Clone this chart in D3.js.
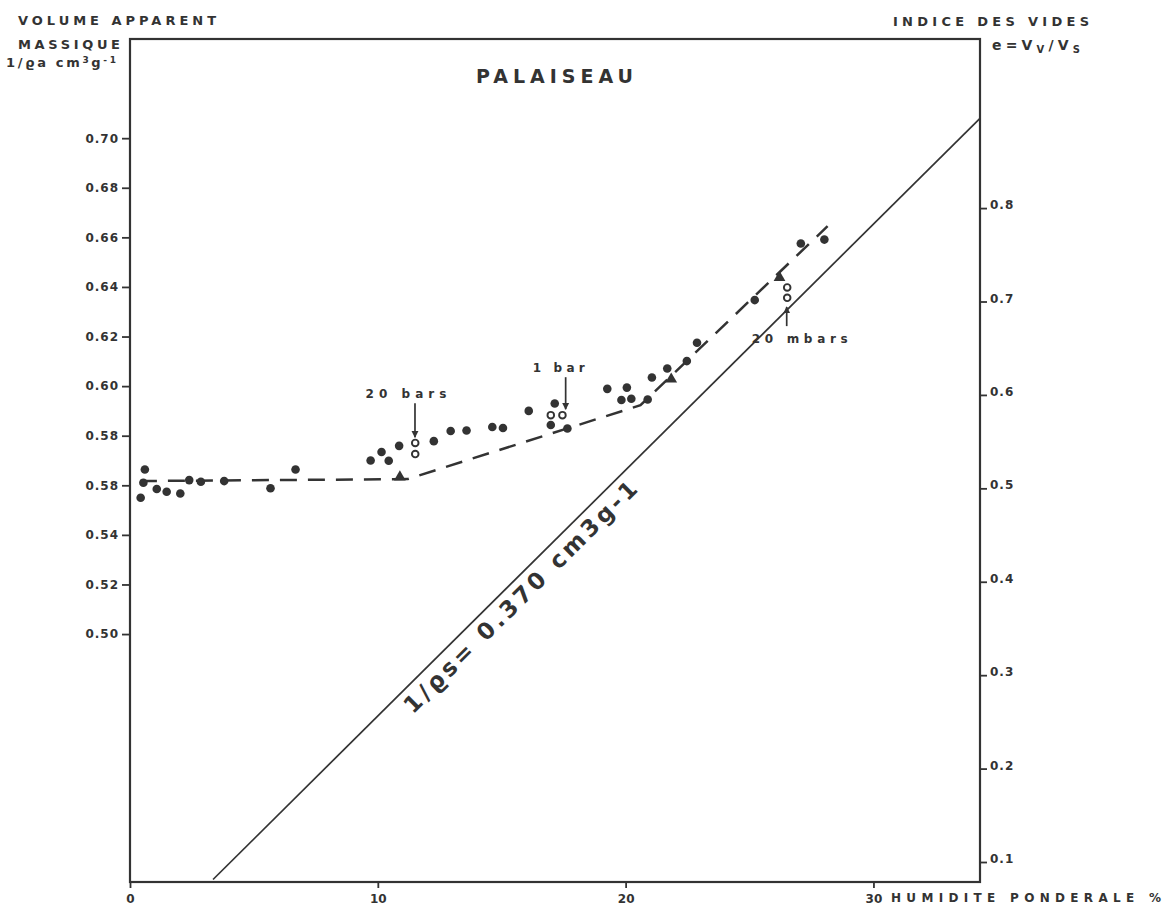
<!DOCTYPE html>
<html>
<head>
<meta charset="utf-8">
<script src="https://cdn.jsdelivr.net/npm/d3@7"></script>
<style>
  body { margin: 0; background: #fff; }
  svg { display: block; }
  text { font-family: "DejaVu Sans", "Liberation Sans", Arial, sans-serif; font-weight: bold; fill: #333; }
</style>
</head>
<body>
<svg id="chart" width="1164" height="913"></svg>
<script>
// values: w = humidite ponderale %, v = 1/rho_a (cm3/g)
const filledW = [0.43, 0.60, 0.54, 1.08, 1.48, 2.03, 2.39, 2.86, 3.80, 5.67, 6.68, 9.71, 10.15, 10.44, 10.86,
                 12.26, 12.94, 13.58, 14.62, 15.05, 16.09, 17.14, 16.98, 17.65, 19.26, 20.05, 19.83, 20.23,
                 20.89, 21.06, 21.68, 22.47, 22.88, 25.21, 27.07, 28.02];
const filledV = [0.555, 0.5664, 0.561, 0.5585, 0.5574, 0.5567, 0.5621, 0.5614, 0.5617, 0.5588, 0.5664, 0.570,
                 0.5734, 0.5699, 0.5759, 0.5778, 0.5819, 0.5821, 0.5835, 0.5831, 0.590, 0.593, 0.5843, 0.5829,
                 0.5989, 0.5994, 0.5944, 0.5949, 0.5946, 0.6035, 0.6071, 0.6101, 0.6175, 0.6347, 0.6575, 0.6591];
const openW = [11.51, 11.51, 16.98, 17.45, 26.52, 26.52];
const openV = [0.5771, 0.5726, 0.5883, 0.5883, 0.6398, 0.6356];
const triW = [10.89, 21.84, 26.21];
const triV = [0.5633, 0.6028, 0.6438];
const dashW = [0.4, 11.2, 20.6, 28.15];
const dashV = [0.5617, 0.5625, 0.5923, 0.6645];
const satW = [3.35, 34.3];
const satV = [0.401, 0.708];

const xTicks = [0, 10, 20, 30];
const leftTicks = [0.50, 0.52, 0.54, 0.56, 0.58, 0.60, 0.62, 0.64, 0.66, 0.68, 0.70];
const leftTickLabels = ["0.50", "0.52", "0.54", "0.58", "0.58", "0.60", "0.62", "0.64", "0.66", "0.68", "0.70"];
const rightTicks = [0.1, 0.2, 0.3, 0.4, 0.5, 0.6, 0.7, 0.8];
const rightTickLabels = ["0.1", "0.2", "0.3", "0.4", "0.5", "0.6", "0.7", "0.8"];

const arrowLabels = ["20 bars", "1 bar", "20 mbars"];
const arrowW = [11.5, 17.58, 26.5];
const arrowFrom = [0.5931, 0.6036, 0.6242];
const arrowTo = [0.5794, 0.5907, 0.6319];

const ink = "#333";
const font = "\"DejaVu Sans\", \"Liberation Sans\", Arial, sans-serif";
const svg = d3.select("#chart");
const frame = { left: 130, right: 980, top: 39, bottom: 882 };

const x = d3.scaleLinear().domain([0, 34.3]).range([frame.left, frame.right]);
const y = d3.scaleLinear().domain([0.40, 0.74]).range([frame.bottom, frame.top]);
const e = d3.scaleLinear().domain([0.0786, 0.981]).range([frame.bottom, frame.top]);

// frame
svg.append("rect")
    .attr("x", frame.left).attr("y", frame.top)
    .attr("width", frame.right - frame.left).attr("height", frame.bottom - frame.top)
    .attr("fill", "none").attr("stroke", ink).attr("stroke-width", 2.2);

// axes
const styleAxis = (g) => {
    g.select(".domain").remove();
    g.selectAll(".tick line").attr("stroke", ink).attr("stroke-width", 1.8);
    g.selectAll(".tick text")
        .attr("fill", ink)
        .style("font-family", font)
        .style("font-weight", "bold")
        .style("font-size", "12px")
        .style("letter-spacing", "1px");
};

svg.append("g")
    .attr("transform", `translate(${frame.left},0)`)
    .call(d3.axisLeft(y).tickValues(leftTicks).tickSize(8).tickPadding(3)
        .tickFormat((d, i) => leftTickLabels[i]))
    .call(styleAxis);

svg.append("g")
    .attr("transform", `translate(${frame.right},0)`)
    .call(d3.axisRight(e).tickValues(rightTicks).tickSize(7).tickPadding(3)
        .tickFormat((d, i) => rightTickLabels[i]))
    .call(styleAxis)
    .call(g => g.selectAll(".tick text").attr("dy", "0.05em"));

svg.append("g")
    .attr("transform", `translate(0,${frame.bottom})`)
    .call(d3.axisBottom(x).tickValues(xTicks).tickSize(6).tickPadding(6).tickFormat(d3.format("d")))
    .call(styleAxis)
    .call(g => g.selectAll(".tick text").style("letter-spacing", "0px").style("font-size", "12px"));

// saturation line
const line = d3.line().x(d => x(d[0])).y(d => y(d[1]));
svg.append("path")
    .datum(d3.zip(satW, satV))
    .attr("d", line)
    .attr("fill", "none").attr("stroke", ink).attr("stroke-width", 1.7);

// dashed trend
svg.append("path")
    .datum(d3.zip(dashW, dashV))
    .attr("d", line)
    .attr("fill", "none").attr("stroke", ink).attr("stroke-width", 2.5)
    .attr("stroke-dasharray", "17 11");

// points
svg.append("g").selectAll("circle")
    .data(d3.zip(filledW, filledV))
    .join("circle")
    .attr("cx", d => x(d[0])).attr("cy", d => y(d[1]))
    .attr("r", 4.3).attr("fill", ink);

svg.append("g").selectAll("circle")
    .data(d3.zip(openW, openV))
    .join("circle")
    .attr("cx", d => x(d[0])).attr("cy", d => y(d[1]))
    .attr("r", 3.3).attr("fill", "#fff").attr("stroke", ink).attr("stroke-width", 1.9);

svg.append("g").selectAll("path")
    .data(d3.zip(triW, triV))
    .join("path")
    .attr("transform", d => `translate(${x(d[0])},${y(d[1])})`)
    .attr("d", d3.symbol(d3.symbolTriangle, 60))
    .attr("fill", ink);

// arrows with pressure labels
svg.append("defs").append("marker")
    .attr("id", "head").attr("viewBox", "0 0 10 10")
    .attr("refX", 9).attr("refY", 5)
    .attr("markerWidth", 7).attr("markerHeight", 8)
    .attr("markerUnits", "userSpaceOnUse")
    .attr("orient", "auto")
    .append("path").attr("d", "M0,0L10,5L0,10Z").attr("fill", ink);

const labelDx = [-9, -7, 13];
const labelDy = [-5, -5, 17];
const labelLen = [81, 52, 96];
arrowLabels.forEach((lab, i) => {
    const ax = x(arrowW[i]);
    svg.append("line")
        .attr("x1", ax).attr("x2", ax)
        .attr("y1", y(arrowFrom[i])).attr("y2", y(arrowTo[i]))
        .attr("stroke", ink).attr("stroke-width", 1.7)
        .attr("marker-end", "url(#head)");
    svg.append("text")
        .attr("x", ax + labelDx[i]).attr("y", y(arrowFrom[i]) + labelDy[i])
        .attr("text-anchor", "middle")
        .attr("textLength", labelLen[i]).attr("lengthAdjust", "spacing")
        .style("font-size", "12px")
        .text(lab);
});

// label along the saturation line
const p0 = [x(satW[0]), y(satV[0])], p1 = [x(satW[1]), y(satV[1])];
const len = Math.hypot(p1[0] - p0[0], p1[1] - p0[1]);
const u = [(p1[0] - p0[0]) / len, (p1[1] - p0[1]) / len];
const nrm = [-u[1], u[0]];
const start = [p0[0] + 258 * u[0] + 24 * nrm[0], p0[1] + 258 * u[1] + 24 * nrm[1]];
const ang = Math.atan2(u[1], u[0]) * 180 / Math.PI;
svg.append("text")
    .attr("transform", `translate(${start[0]},${start[1]}) rotate(${ang})`)
    .attr("textLength", 318).attr("lengthAdjust", "spacing")
    .style("font-size", "23px")
    .text("1/ϱs= 0.370  cm3g-1");

// titles and axis names
svg.append("text").attr("x", 476).attr("y", 83)
    .attr("textLength", 157).attr("lengthAdjust", "spacing")
    .style("font-size", "19px").text("PALAISEAU");

svg.append("text").attr("x", 18).attr("y", 25)
    .attr("textLength", 198).attr("lengthAdjust", "spacing")
    .style("font-size", "13px").text("VOLUME APPARENT");
svg.append("text").attr("x", 18).attr("y", 49)
    .attr("textLength", 102).attr("lengthAdjust", "spacing")
    .style("font-size", "13px").text("MASSIQUE");
const unit = svg.append("text").attr("x", 6).attr("y", 67)
    .attr("textLength", 110).attr("lengthAdjust", "spacing")
    .style("font-size", "13px");
unit.append("tspan").text("1/ϱa cm");
unit.append("tspan").attr("dy", -4).style("font-size", "9px").text("3");
unit.append("tspan").attr("dy", 4).text("g");
unit.append("tspan").attr("dy", -4).style("font-size", "9px").text("-1");

svg.append("text").attr("x", 893).attr("y", 26)
    .attr("textLength", 196).attr("lengthAdjust", "spacing")
    .style("font-size", "13px").text("INDICE DES VIDES");
const ev = svg.append("text").attr("x", 992).attr("y", 50)
    .attr("textLength", 88).attr("lengthAdjust", "spacing")
    .style("font-size", "14px");
ev.append("tspan").text("e=V");
ev.append("tspan").attr("dy", 3).style("font-size", "10px").text("V");
ev.append("tspan").attr("dy", -3).text("/V");
ev.append("tspan").attr("dy", 3).style("font-size", "10px").text("S");

svg.append("text").attr("x", 891).attr("y", 902)
    .attr("textLength", 270).attr("lengthAdjust", "spacing")
    .style("font-size", "12px").text("HUMIDITE PONDERALE %");
</script>
</body>
</html>
